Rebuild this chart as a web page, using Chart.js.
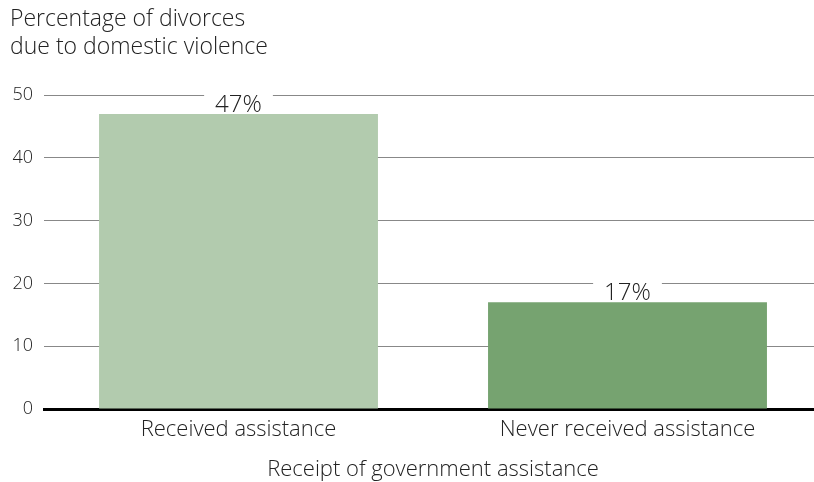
<!DOCTYPE html>
<html>
<head>
<meta charset="utf-8">
<script src="https://cdn.jsdelivr.net/npm/chart.js@4"></script>
<style>
html,body{margin:0;padding:0;background:#fff;overflow:hidden;}
#wrap{width:814px;height:482px;position:relative;overflow:hidden;}
</style>
</head>
<body>
<div id="wrap"><canvas id="c" width="822" height="482"></canvas></div>
<script>
const categories = ['Received assistance', 'Never received assistance'];
const values = [47, 17];
const barColors = ['#b2cbae', '#76a370'];
const yTicks = [0, 10, 20, 30, 40, 50];
const titleLines = ['Percentage of divorces', 'due to domestic violence'];
const xTitle = 'Receipt of government assistance';

const FONT = '"Open Sans", Lato, "DejaVu Sans", sans-serif';

const labelPlugin = {
  id: 'valueLabels',
  afterDatasetsDraw(chart) {
    const ctx = chart.ctx;
    const meta = chart.getDatasetMeta(0);
    ctx.save();
    ctx.font = '300 24px ' + FONT;
    ctx.textAlign = 'center';
    ctx.textBaseline = 'alphabetic';
    meta.data.forEach((bar, i) => {
      const txt = values[i] + '%';
      const w = ctx.measureText(txt).width;
      const yb = bar.y - 2;
      ctx.fillStyle = '#fff';
      ctx.fillRect(bar.x - w / 2 - 11, bar.y - 25, w + 22, 24);
      ctx.fillStyle = '#222';
      ctx.fillText(txt, bar.x, yb);
    });
    ctx.restore();
  }
};

new Chart(document.getElementById('c'), {
  type: 'bar',
  data: {
    labels: categories,
    datasets: [{
      data: values,
      backgroundColor: barColors,
      borderWidth: 0,
      barPercentage: 0.717,
      categoryPercentage: 1
    }]
  },
  options: {
    responsive: false,
    animation: false,
    layout: { padding: { left: 10, right: 0, top: 6, bottom: 0 } },
    plugins: {
      legend: { display: false },
      tooltip: { enabled: false },
      title: {
        display: true,
        text: titleLines,
        align: 'start',
        color: '#222',
        font: { family: FONT, size: 23, weight: 300, lineHeight: 1.2 },
        padding: { top: 0, bottom: 34 }
      }
    },
    scales: {
      x: {
        afterFit(scale) { scale.height = 73; },
        grid: { display: false, drawTicks: false },
        border: { display: true, color: '#000', width: 3 },
        ticks: { color: '#222', font: { family: FONT, size: 22, weight: 300 }, padding: 8 },
        title: {
          display: true,
          text: xTitle,
          color: '#222',
          font: { family: FONT, size: 22, weight: 300, lineHeight: 1.1 },
          padding: { top: 4, bottom: 0 }
        }
      },
      y: {
        min: 0,
        max: 50,
        afterBuildTicks(scale) { scale.ticks = yTicks.map(v => ({ value: v })); },
        afterFit(scale) { scale.width = 34; },
        grid: {
          drawTicks: false,
          color: (c) => (c.tick && c.tick.value === 0) ? 'rgba(0,0,0,0)' : '#888',
          lineWidth: 1
        },
        border: { display: false },
        ticks: {
          color: '#222',
          font: { family: FONT, size: 18, weight: 300 },
          padding: 11
        }
      }
    }
  },
  plugins: [labelPlugin]
});
</script>
</body>
</html>
